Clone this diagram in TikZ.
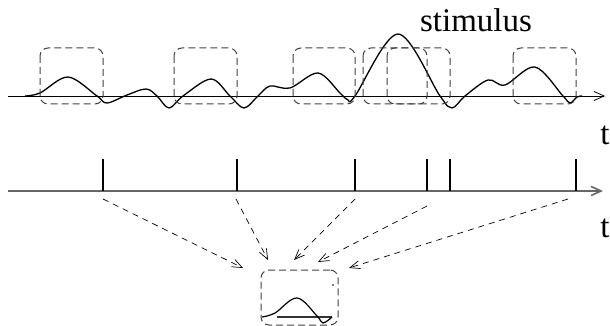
\documentclass[tikz,border=0pt]{standalone}
\usepackage{fontspec}
\setmainfont{Liberation Serif}
\usetikzlibrary{arrows.meta}
\tikzset{
  winbox/.style={draw=gray!50!black, dash pattern=on 7pt off 4pt, rounded corners=8pt, line width=1pt},
  signal/.style={line width=1.3pt, line join=round},
  axisline/.style={line width=0.8pt, -{Straight Barb[length=10pt,width=9pt]}},
  spike/.style={line width=1.2pt},
  maparrow/.style={dash pattern=on 6pt off 5pt, line width=0.7pt, -{Straight Barb[length=10pt,width=8pt]}},
  lbl/.style={font=\fontsize{33}{38}\selectfont, inner sep=0pt}
}
\begin{document}
\begin{tikzpicture}[x=1pt,y=-1pt]
\useasboundingbox (0,0) rectangle (610,326);
% stimulus axis
\coordinate (a0) at (8,96);
\coordinate (a1) at (605,96);
\draw[axisline] (a0) -- (a1);
% stimulus signal
\draw[signal] plot[smooth, tension=0.55] coordinates {
 (25,96) (40,93) (68,77) (97,96) (107,103) (127,95) (146,89) (157,96) (169,108) (183,96)
 (211,79) (230,96) (244,108) (258,96) (270,86) (290,88) (318,73) (340,93) (348,100) (355,96)
 (398,34) (440,96) (452,108) (465,96) (488,80) (505,85) (535,67) (563,96) (570,103) (577,97) (582,96)};
% windows
\draw[winbox] (40,48) rectangle (103,104);
\draw[winbox] (174,48) rectangle (237,104);
\draw[winbox] (293,48) rectangle (355,104);
\draw[winbox] (363,48) rectangle (427,104);
\draw[winbox] (387,48) rectangle (450,104);
\draw[winbox] (513,48) rectangle (576,104);
% labels
\node[lbl, anchor=base] (stim) at (476,32) {stimulus};
\node[lbl, anchor=base] (t1) at (605,145) {t};
\node[lbl, anchor=base] (t2) at (605,237) {t};
% spike axis
\coordinate (b0) at (8,191);
\coordinate (b1) at (603,191);
\draw[axisline, draw=gray!80!black, line width=1.6pt] (b0) -- (b1);
% spikes
\foreach \n/\x in {1/103,2/237,3/355,4/427,5/450,6/576}{
  \coordinate (s\n top) at (\x,159);
  \coordinate (s\n) at (\x,191);
  \draw[spike] (s\n top) -- (s\n);
}
% kernel box
\node[winbox, minimum width=77pt, minimum height=55pt, inner sep=0pt] (kern) at (299.5,297.5) {};
\fill (333,285) circle (0.8pt);
\draw[line width=1.1pt, gray!40!black] (277,317) -- (332,317);
\draw[signal, line width=1.2pt] plot[smooth, tension=0.6] coordinates {
 (262,317) (275,313) (297,298) (317,316) (323,323) (332,317)};
% mapping arrows
\coordinate (m1s) at (103,199); \coordinate (m1e) at (243,268);
\coordinate (m2s) at (236,199); \coordinate (m2e) at (268,260);
\coordinate (m3s) at (355,199); \coordinate (m3e) at (294,260);
\coordinate (m4s) at (427,206); \coordinate (m4e) at (318,262);
\coordinate (m5s) at (568,199); \coordinate (m5e) at (349,268);
\foreach \i in {1,...,5}{ \draw[maparrow] (m\i s) -- (m\i e); }
\end{tikzpicture}
\end{document}
